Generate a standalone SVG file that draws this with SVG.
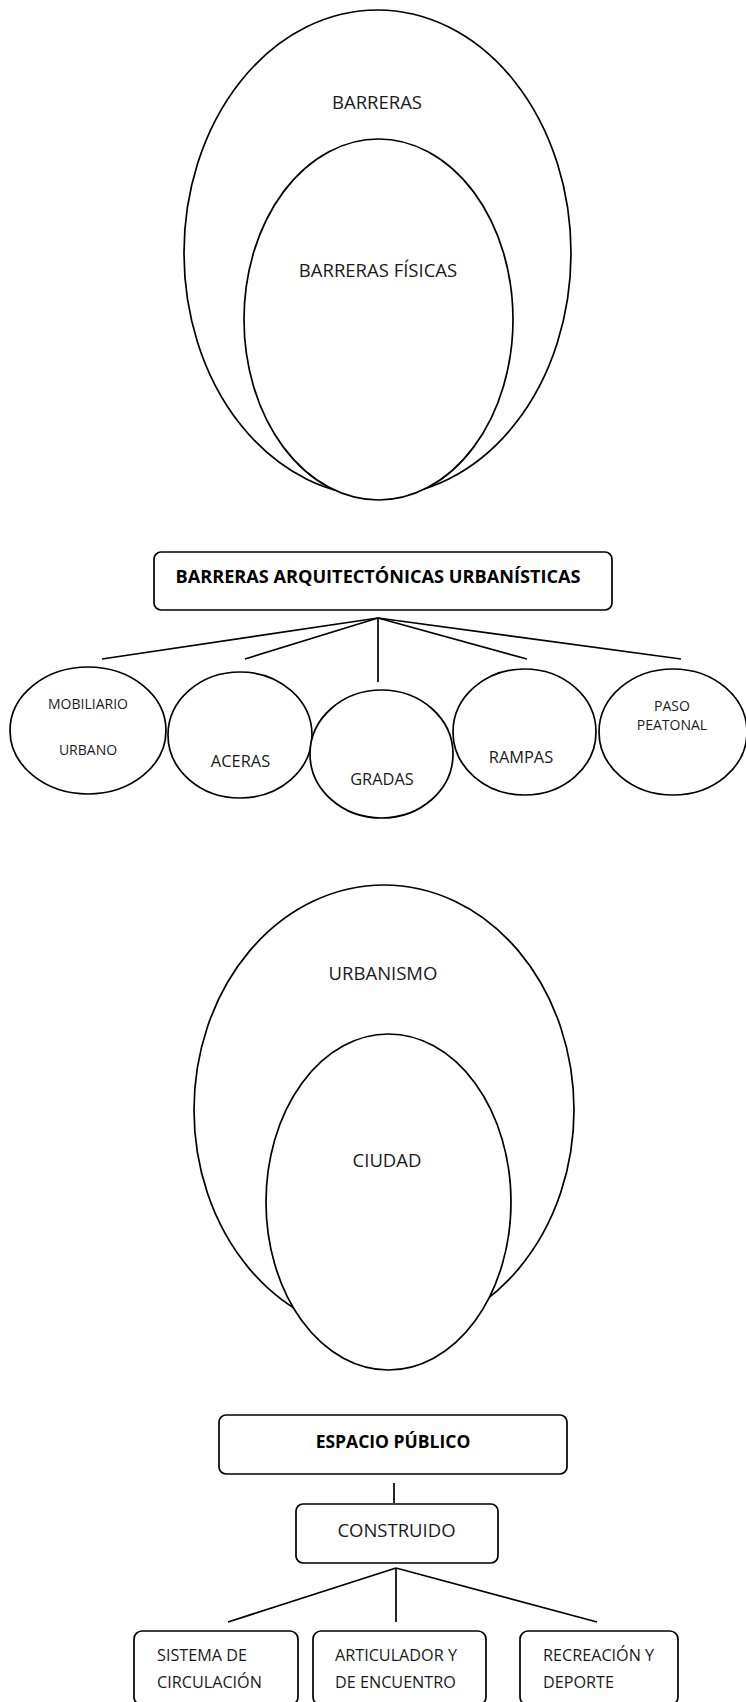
<svg xmlns="http://www.w3.org/2000/svg" width="746" height="1702" viewBox="0 0 746 1702">
<style>
.sh{fill:#fff;stroke:#000;stroke-width:1.7}
.ln{stroke:#000;stroke-width:1.7;fill:none}
text{font-family:"Open Sans","Liberation Sans",sans-serif;fill:#1a1a1a}
.big{font-size:18.5px}
.mid{font-size:16.4px}
.sm{font-size:14px}
.bx{font-size:16.2px}
.b{font-weight:700;font-size:17.5px;fill:#000}
.c{text-anchor:middle}
</style>
<rect width="746" height="1702" fill="#fff"/>
<g id="barreras">
<ellipse class="sh" cx="377.5" cy="253" rx="193.5" ry="243"/>
<text class="big c" x="377" y="109">BARRERAS</text>
</g>
<g id="barreras-fisicas">
<ellipse class="sh" cx="378.5" cy="319.5" rx="134.5" ry="180.5"/>
<text class="big c" x="378" y="277">BARRERAS FÍSICAS</text>
</g>
<g id="connectors">
<line class="ln" x1="378" y1="618" x2="102" y2="659"/>
<line class="ln" x1="378" y1="618" x2="245" y2="659"/>
<line class="ln" x1="378" y1="618" x2="378" y2="682"/>
<line class="ln" x1="378" y1="618" x2="527" y2="659"/>
<line class="ln" x1="378" y1="618" x2="681" y2="659"/>
<line class="ln" x1="394" y1="1483" x2="394" y2="1503"/>
<line class="ln" x1="396" y1="1568" x2="228" y2="1622"/>
<line class="ln" x1="396" y1="1568" x2="396" y2="1622"/>
<line class="ln" x1="396" y1="1568" x2="597" y2="1622"/>
</g>
<g id="barreras-arq">
<rect class="sh" x="154" y="552" width="458" height="58" rx="7"/>
<text class="b c" x="378" y="583" textLength="405" lengthAdjust="spacingAndGlyphs">BARRERAS ARQUITECTÓNICAS URBANÍSTICAS</text>
</g>
<g id="mobiliario">
<ellipse class="sh" cx="88" cy="730.5" rx="78" ry="63.5"/>
<text class="sm c" x="88" y="709">MOBILIARIO</text>
<text class="sm c" x="88" y="755">URBANO</text>
</g>
<g id="aceras">
<ellipse class="sh" cx="240" cy="735" rx="72" ry="63"/>
<text class="mid c" x="240.5" y="767">ACERAS</text>
</g>
<g id="gradas">
<ellipse class="sh" cx="381.5" cy="754" rx="71.5" ry="64"/>
<text class="mid c" x="382" y="785">GRADAS</text>
</g>
<g id="rampas">
<ellipse class="sh" cx="524.5" cy="732" rx="71.5" ry="63"/>
<text class="mid c" x="521" y="763">RAMPAS</text>
</g>
<g id="paso-peatonal">
<ellipse class="sh" cx="673" cy="732" rx="74" ry="63"/>
<text class="sm c" x="672" y="711">PASO</text>
<text class="sm c" x="672" y="730">PEATONAL</text>
</g>
<g id="urbanismo">
<ellipse class="sh" cx="384" cy="1110" rx="190" ry="225"/>
<text class="big c" x="383" y="980">URBANISMO</text>
</g>
<g id="ciudad">
<ellipse class="sh" cx="388.5" cy="1202" rx="122.5" ry="168"/>
<text class="big c" x="387" y="1167">CIUDAD</text>
</g>
<g id="espacio-publico">
<rect class="sh" x="219" y="1415" width="348" height="59" rx="7"/>
<text class="b c" x="393" y="1448">ESPACIO PÚBLICO</text>
</g>
<g id="construido">
<rect class="sh" x="296" y="1504" width="202" height="59" rx="7"/>
<text class="big c" x="396.5" y="1537">CONSTRUIDO</text>
</g>
<g id="sistema">
<rect class="sh" x="134" y="1631" width="164" height="74" rx="8"/>
<text class="bx" x="157" y="1661">SISTEMA DE</text>
<text class="bx" x="157" y="1688">CIRCULACIÓN</text>
</g>
<g id="articulador">
<rect class="sh" x="313" y="1631" width="173" height="74" rx="8"/>
<text class="bx" x="335" y="1661">ARTICULADOR Y</text>
<text class="bx" x="335" y="1688">DE ENCUENTRO</text>
</g>
<g id="recreacion">
<rect class="sh" x="520" y="1631" width="158" height="74" rx="8"/>
<text class="bx" x="543" y="1661">RECREACIÓN Y</text>
<text class="bx" x="543" y="1688">DEPORTE</text>
</g>
</svg>
